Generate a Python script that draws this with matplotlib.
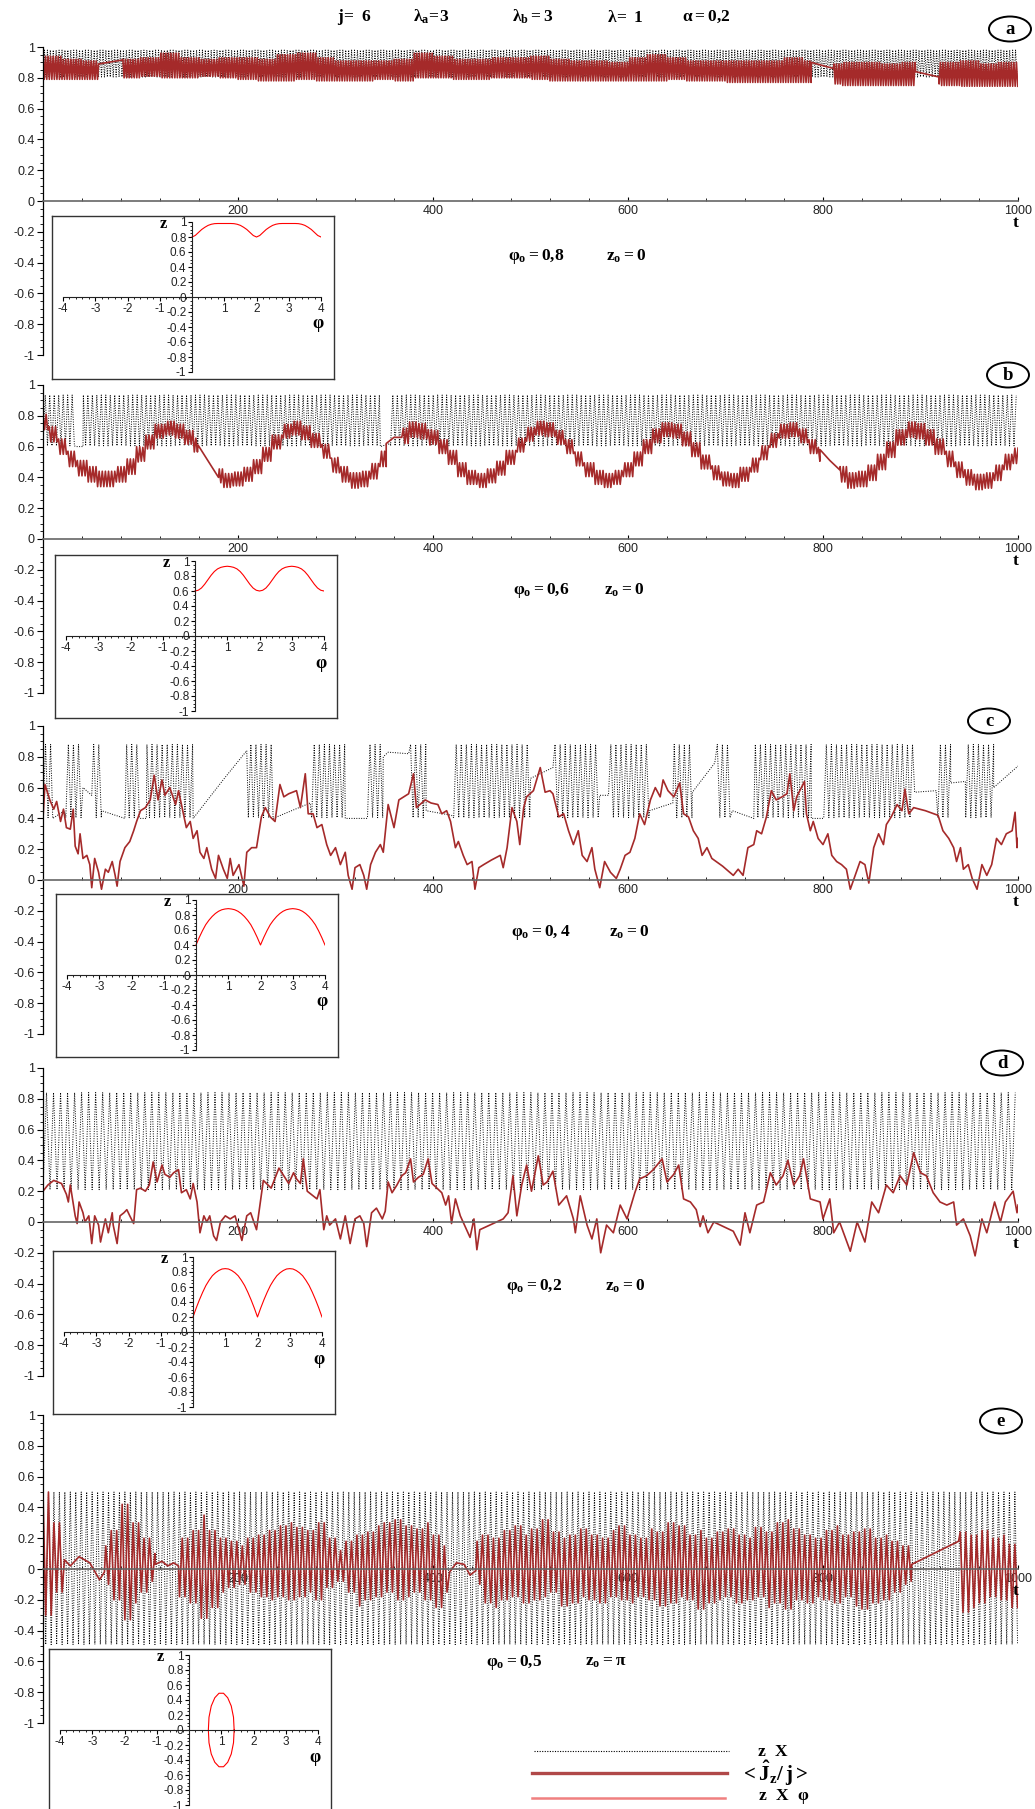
import numpy as np
import matplotlib.pyplot as plt
from matplotlib.patches import Ellipse
from matplotlib.ticker import FixedLocator, MultipleLocator, FuncFormatter

plt.rcParams['font.family'] = 'Liberation Sans'
plt.rcParams['mathtext.fontset'] = 'custom'
plt.rcParams['mathtext.rm'] = 'Liberation Serif:bold'
plt.rcParams['mathtext.it'] = 'Liberation Serif:bold'
plt.rcParams['mathtext.bf'] = 'Liberation Serif:bold'
plt.rcParams['mathtext.default'] = 'rm'

# ---------------- data ----------------
# dotted z(t): envelope (top, bottom), half period in t, slow stretches (t list, value list)
zx_top = {'a': 0.98, 'b': 0.935, 'c': 0.88, 'd': 0.84, 'e': 0.50}
zx_bot = {'a': 0.805, 'b': 0.605, 'c': 0.405, 'd': 0.21, 'e': -0.49}
zx_half = {'a': 1.5, 'b': 2.3, 'c': 2.6, 'd': 3.6, 'e': 2.8}
zx_starts_top = {'a': False, 'b': False, 'c': False, 'd': False, 'e': True}
zx_slow = {
    'a': [],
    'b': [([34, 41], [0.60, 0.60]), ([346, 356], [0.60, 0.62])],
    'c': [([10, 22], [0.40, 0.45]), ([41, 50], [0.60, 0.55]), ([60, 84], [0.45, 0.40]),
          ([100, 106], [0.40, 0.40]), ([154, 186, 209], [0.40, 0.66, 0.84]),
          ([236, 274], [0.40, 0.50]), ([310, 332], [0.40, 0.40]),
          ([349, 354, 375], [0.80, 0.83, 0.82]), ([393, 419], [0.45, 0.42]),
          ([500, 523], [0.66, 0.73]), ([571, 580], [0.55, 0.55]), ([622, 646], [0.45, 0.50]),
          ([666, 689], [0.57, 0.76]), ([707, 729], [0.45, 0.40]), ([788, 800], [0.40, 0.40]),
          ([894, 916], [0.57, 0.58]), ([931, 946], [0.63, 0.64]), ([975, 1000], [0.60, 0.74])],
    'd': [],
    'e': [],
}

# <Jz/j>, panel a: band top / bottom per 20 t, smooth stretches
red_a_hi = [0.94, 0.92, 0.91, 0.91, 0.92, 0.93, 0.96, 0.93, 0.92, 0.93,
            0.93, 0.92, 0.95, 0.96, 0.93, 0.91, 0.91, 0.91, 0.92, 0.96,
            0.94, 0.92, 0.92, 0.93, 0.93, 0.94, 0.92, 0.91, 0.91, 0.90,
            0.93, 0.95, 0.93, 0.91, 0.91, 0.91, 0.91, 0.91, 0.93, 0.91,
            0.89, 0.90, 0.90, 0.89, 0.90, 0.89, 0.90, 0.91, 0.89, 0.90]
red_a_lo = [0.79, 0.79, 0.79, 0.80, 0.80, 0.81, 0.80, 0.80, 0.81, 0.80,
            0.79, 0.78, 0.78, 0.79, 0.78, 0.78, 0.78, 0.79, 0.78, 0.80,
            0.80, 0.79, 0.79, 0.80, 0.80, 0.79, 0.78, 0.78, 0.78, 0.78,
            0.78, 0.78, 0.79, 0.78, 0.78, 0.77, 0.77, 0.77, 0.77, 0.77,
            0.76, 0.75, 0.75, 0.75, 0.75, 0.76, 0.75, 0.745, 0.745, 0.745]
red_a_smooth = [([57, 81], [0.89, 0.915]), ([788, 811], [0.90, 0.86]), ([895, 919], [0.84, 0.805])]

# panel b: slow centre every 10 t (t = 0..1000), jitter per 100 t, smooth stretches
red_b_mid = [0.76, 0.68, 0.60, 0.52, 0.46, 0.42, 0.39, 0.39, 0.42, 0.47,
             0.55, 0.63, 0.70, 0.72, 0.70, 0.66, 0.61, 0.50, 0.41, 0.38,
             0.39, 0.42, 0.47, 0.55, 0.63, 0.70, 0.72, 0.69, 0.64, 0.57,
             0.48, 0.42, 0.38, 0.39, 0.44, 0.52, 0.62, 0.67, 0.71, 0.70,
             0.66, 0.60, 0.53, 0.45, 0.40, 0.38, 0.41, 0.46, 0.53, 0.61,
             0.68, 0.72, 0.71, 0.66, 0.60, 0.52, 0.45, 0.40, 0.38, 0.40,
             0.45, 0.52, 0.60, 0.67, 0.71, 0.70, 0.65, 0.58, 0.50, 0.43,
             0.39, 0.38, 0.42, 0.48, 0.56, 0.64, 0.70, 0.71, 0.67, 0.60,
             0.55, 0.48, 0.42, 0.38, 0.39, 0.43, 0.50, 0.58, 0.66, 0.71,
             0.70, 0.66, 0.60, 0.52, 0.45, 0.40, 0.37, 0.38, 0.43, 0.50, 0.54]
red_b_jit = [0.05, 0.045, 0.045, 0.05, 0.045, 0.045, 0.045, 0.045, 0.05, 0.05]
red_b_smooth = [([159, 170, 180], [0.61, 0.50, 0.40]), ([352, 360, 368], [0.62, 0.66, 0.66]),
                ([797, 807, 817], [0.58, 0.51, 0.45])]

# panel c: traced points
red_c_t = [0, 2, 7, 11, 14, 18, 21, 24, 28, 31, 33, 36, 38, 41, 45, 48, 50, 53, 57, 60,
           64, 67, 71, 74, 76, 79, 84, 89, 93, 96, 100, 105, 110, 114, 118, 122, 125, 130, 136, 139,
           144, 147, 151, 154, 158, 161, 165, 168, 173, 177, 180, 185, 189, 192, 195, 201, 206, 209, 214, 219,
           224, 228, 233, 238, 243, 247, 252, 260, 264, 269, 272, 277, 281, 286, 291, 295, 300, 305, 310, 313,
           317, 320, 325, 329, 332, 336, 341, 346, 349, 354, 360, 365, 370, 375, 380, 383, 392, 398, 405, 409,
           414, 418, 423, 426, 431, 435, 440, 443, 447, 452, 460, 469, 472, 476, 481, 486, 489, 493, 496, 503,
           510, 515, 520, 523, 529, 534, 539, 544, 549, 553, 558, 563, 566, 571, 576, 582, 588, 592, 597, 602,
           607, 612, 617, 623, 628, 633, 636, 641, 647, 653, 657, 662, 667, 672, 676, 681, 686, 697, 708, 713,
           718, 723, 729, 732, 737, 742, 747, 752, 758, 763, 766, 770, 773, 781, 783, 787, 790, 795, 800, 805,
           809, 814, 819, 824, 828, 833, 838, 843, 847, 852, 857, 862, 865, 870, 876, 881, 884, 888, 893, 905,
           918, 923, 929, 934, 937, 941, 944, 949, 953, 958, 963, 968, 973, 978, 983, 988, 994, 997, 999, 1000]
red_c_v = [0.40, 0.62, 0.52, 0.46, 0.51, 0.38, 0.46, 0.34, 0.33, 0.46, 0.22, 0.17, 0.30, 0.14, 0.16, 0.10, -0.05, 0.14, 0.05, -0.06,
           0.07, 0.05, 0.12, 0.03, -0.04, 0.12, 0.21, 0.25, 0.32, 0.38, 0.45, 0.47, 0.52, 0.68, 0.52, 0.65, 0.55, 0.60, 0.49, 0.58,
           0.43, 0.34, 0.38, 0.27, 0.32, 0.18, 0.14, 0.21, 0.07, 0.01, 0.16, 0.07, 0.01, 0.14, 0.03, 0.10, -0.04, 0.18, 0.21, 0.21,
           0.41, 0.47, 0.41, 0.38, 0.62, 0.54, 0.56, 0.58, 0.47, 0.69, 0.43, 0.43, 0.34, 0.36, 0.23, 0.16, 0.21, 0.10, 0.18, 0.03,
           -0.06, 0.08, 0.10, 0.03, -0.06, 0.10, 0.18, 0.23, 0.18, 0.49, 0.34, 0.52, 0.54, 0.56, 0.69, 0.47, 0.52, 0.50, 0.49, 0.43,
           0.45, 0.38, 0.21, 0.25, 0.16, 0.10, 0.12, -0.06, 0.08, 0.10, 0.13, 0.16, 0.08, 0.21, 0.47, 0.38, 0.23, 0.47, 0.54, 0.58,
           0.73, 0.57, 0.58, 0.56, 0.41, 0.43, 0.32, 0.23, 0.32, 0.16, 0.12, 0.21, 0.07, -0.05, 0.12, 0.05, 0.01, 0.07, 0.16, 0.18,
           0.27, 0.43, 0.36, 0.52, 0.60, 0.54, 0.65, 0.58, 0.54, 0.63, 0.43, 0.41, 0.32, 0.27, 0.16, 0.21, 0.14, 0.09, 0.03, 0.07,
           0.03, 0.21, 0.23, 0.32, 0.30, 0.41, 0.58, 0.52, 0.54, 0.56, 0.69, 0.45, 0.54, 0.64, 0.43, 0.32, 0.38, 0.27, 0.23, 0.30,
           0.16, 0.12, 0.10, 0.07, -0.06, 0.03, 0.12, 0.10, -0.02, 0.21, 0.30, 0.23, 0.36, 0.41, 0.49, 0.45, 0.59, 0.43, 0.47, 0.45,
           0.42, 0.32, 0.27, 0.21, 0.12, 0.21, 0.07, 0.10, 0.01, -0.06, 0.10, 0.03, 0.10, 0.27, 0.23, 0.30, 0.32, 0.44, 0.21, 0.27]

# panel d: traced points
red_d_t = [0, 5, 11, 19, 24, 26, 28, 33, 35, 37, 41, 43, 47, 50, 53, 57, 59, 64, 67, 71,
           72, 76, 79, 83, 86, 89, 93, 96, 100, 105, 109, 113, 117, 122, 125, 130, 134, 139, 142, 147,
           151, 154, 158, 161, 165, 168, 171, 175, 178, 182, 187, 192, 197, 201, 204, 209, 213, 219, 226, 234,
           242, 247, 252, 257, 260, 264, 267, 271, 281, 284, 288, 291, 294, 300, 305, 310, 315, 320, 325, 329,
           332, 337, 342, 348, 351, 354, 358, 363, 368, 372, 377, 380, 385, 390, 395, 399, 404, 409, 413, 416,
           419, 423, 428, 433, 438, 442, 445, 448, 472, 477, 482, 486, 491, 496, 501, 508, 513, 517, 523, 529,
           537, 544, 546, 551, 558, 563, 568, 572, 578, 585, 592, 599, 607, 612, 619, 626, 635, 640, 647, 652,
           657, 664, 670, 674, 677, 682, 688, 708, 715, 720, 725, 732, 739, 746, 752, 759, 764, 770, 776, 780,
           787, 797, 800, 807, 811, 817, 828, 835, 843, 850, 857, 865, 872, 879, 886, 893, 900, 906, 913, 920,
           927, 934, 937, 944, 951, 956, 963, 968, 976, 982, 987, 995, 999, 1000]
red_d_v = [0.20, 0.24, 0.27, 0.25, 0.18, 0.13, 0.24, 0.04, -0.01, 0.13, 0.06, 0.00, 0.04, -0.14, 0.04, -0.02, -0.13, 0.02, -0.07, 0.06,
           -0.02, -0.14, 0.04, 0.06, 0.08, 0.04, -0.01, 0.21, 0.22, 0.20, 0.24, 0.39, 0.26, 0.37, 0.31, 0.29, 0.32, 0.34, 0.19, 0.21,
           0.15, 0.25, 0.13, -0.07, 0.04, 0.00, 0.04, -0.09, -0.12, 0.00, 0.04, 0.02, 0.04, -0.05, -0.12, 0.04, 0.06, -0.05, 0.27, 0.22,
           0.35, 0.30, 0.25, 0.32, 0.28, 0.25, 0.41, 0.20, 0.15, 0.21, -0.05, 0.04, -0.02, 0.02, -0.11, 0.04, -0.14, 0.02, 0.04, -0.01,
           -0.16, 0.06, 0.09, 0.02, 0.07, 0.26, 0.19, 0.24, 0.30, 0.32, 0.41, 0.26, 0.29, 0.31, 0.41, 0.25, 0.22, 0.19, 0.11, 0.17,
           -0.01, 0.15, 0.04, -0.03, -0.10, 0.02, -0.18, -0.05, 0.02, 0.06, 0.30, 0.04, 0.24, 0.37, 0.20, 0.43, 0.24, 0.26, 0.33, 0.11,
           0.17, 0.02, -0.07, 0.17, -0.02, -0.11, 0.02, -0.20, -0.02, -0.07, 0.11, 0.02, 0.19, 0.28, 0.30, 0.34, 0.41, 0.26, 0.31, 0.37,
           0.15, 0.13, 0.08, -0.03, 0.04, -0.07, 0.00, -0.06, -0.15, 0.06, -0.07, 0.11, 0.13, 0.32, 0.24, 0.30, 0.40, 0.24, 0.30, 0.41,
           0.15, 0.13, 0.02, 0.15, -0.07, 0.00, -0.19, 0.00, -0.13, 0.13, 0.06, 0.24, 0.19, 0.30, 0.24, 0.45, 0.32, 0.30, 0.19, 0.13,
           0.11, 0.13, -0.02, 0.02, -0.09, -0.22, 0.02, -0.07, 0.13, 0.00, 0.13, 0.20, 0.06, 0.11]

# panel e: band top / bottom per 10 t, smooth stretches
red_e_hi = [0.50, 0.30, 0.10, 0.08, 0.08, 0.08, 0.15, 0.25, 0.42, 0.30,
            0.20, 0.10, 0.05, 0.05, 0.20, 0.25, 0.35, 0.25, 0.20, 0.18,
            0.15, 0.20, 0.22, 0.25, 0.28, 0.30, 0.27, 0.25, 0.30, 0.20,
            0.12, 0.18, 0.22, 0.24, 0.28, 0.30, 0.32, 0.28, 0.26, 0.30,
            0.22, 0.15, 0.05, 0.05, 0.18, 0.22, 0.20, 0.25, 0.28, 0.22,
            0.26, 0.32, 0.24, 0.20, 0.22, 0.26, 0.22, 0.20, 0.25, 0.28,
            0.22, 0.20, 0.26, 0.24, 0.30, 0.28, 0.22, 0.25, 0.20, 0.24,
            0.26, 0.22, 0.20, 0.27, 0.24, 0.30, 0.32, 0.26, 0.22, 0.20,
            0.25, 0.28, 0.22, 0.24, 0.26, 0.20, 0.22, 0.18, 0.15, 0.10,
            0.10, 0.12, 0.15, 0.18, 0.24, 0.22, 0.25, 0.20, 0.22, 0.16]
red_e_lo = [-0.30, -0.15, 0.00, 0.00, 0.00, 0.00, -0.10, -0.20, -0.33, -0.22,
            -0.15, -0.08, 0.00, 0.00, -0.18, -0.22, -0.32, -0.25, -0.15, -0.12,
            -0.10, -0.15, -0.18, -0.20, -0.18, -0.20, -0.18, -0.15, -0.20, -0.12,
            -0.08, -0.15, -0.24, -0.20, -0.18, -0.15, -0.20, -0.18, -0.15, -0.20,
            -0.25, -0.15, 0.00, 0.00, -0.10, -0.22, -0.25, -0.20, -0.18, -0.22,
            -0.20, -0.18, -0.15, -0.24, -0.22, -0.18, -0.20, -0.22, -0.18, -0.20,
            -0.22, -0.18, -0.20, -0.24, -0.22, -0.18, -0.20, -0.26, -0.22, -0.20,
            -0.18, -0.22, -0.20, -0.18, -0.25, -0.22, -0.26, -0.20, -0.22, -0.18,
            -0.20, -0.22, -0.18, -0.24, -0.26, -0.22, -0.20, -0.15, -0.10, -0.08,
            -0.05, -0.05, -0.10, -0.15, -0.28, -0.25, -0.22, -0.18, -0.20, -0.25]
red_e_smooth = [([22, 28, 37, 48, 58, 63], [0.06, 0.02, 0.08, 0.04, -0.07, -0.02]),
                ([115, 122, 128, 134, 139], [0.03, 0.05, 0.02, 0.04, 0.02]),
                ([417, 424, 432, 438, 444], [-0.02, 0.04, 0.03, -0.04, -0.01]),
                ([891, 939], [0.03, 0.18])]

# insets z(phi) for phi in 0..2 (repeats over 2..4)
phi_half = [0.0, 0.1, 0.2, 0.3, 0.4, 0.5, 0.6, 0.7, 0.8, 0.9, 1.0,
            1.1, 1.2, 1.3, 1.4, 1.5, 1.6, 1.7, 1.8, 1.9, 2.0]
zphi_half = {
    'a': [0.80, 0.82, 0.86, 0.90, 0.93, 0.955, 0.97, 0.978, 0.98, 0.98, 0.98,
          0.98, 0.98, 0.978, 0.97, 0.955, 0.93, 0.90, 0.86, 0.82, 0.80],
    'b': [0.60, 0.61, 0.64, 0.69, 0.75, 0.81, 0.86, 0.895, 0.915, 0.925, 0.93,
          0.925, 0.915, 0.895, 0.86, 0.81, 0.75, 0.69, 0.64, 0.61, 0.60],
    'c': [0.40, 0.50, 0.59, 0.67, 0.73, 0.78, 0.82, 0.85, 0.87, 0.88, 0.885,
          0.88, 0.87, 0.85, 0.82, 0.78, 0.73, 0.67, 0.59, 0.50, 0.40],
    'd': [0.20, 0.32, 0.43, 0.53, 0.62, 0.69, 0.75, 0.79, 0.82, 0.84, 0.845,
          0.84, 0.82, 0.79, 0.75, 0.69, 0.62, 0.53, 0.43, 0.32, 0.20],
}
# panel e inset: closed orbit
orbit_phi = [1.40, 1.38, 1.31, 1.20, 1.07, 0.93, 0.80, 0.69, 0.62, 0.60,
             0.62, 0.69, 0.80, 0.93, 1.07, 1.20, 1.31, 1.38, 1.40]
orbit_z = [0.00, 0.17, 0.32, 0.43, 0.49, 0.49, 0.43, 0.32, 0.17, 0.00,
           -0.17, -0.32, -0.43, -0.49, -0.49, -0.43, -0.32, -0.17, 0.00]

header = [(r'$j\!=\ 6$', 337), (r'$λ_{a}\!=\!3$', 413), (r'$λ_b = 3$', 512),
          (r'$λ\!=\ 1$', 607), (r'$α = 0{,}2$', 682)]
init_phi = {'a': r'$φ_o = 0{,}8$', 'b': r'$φ_o = 0{,}6$', 'c': r'$φ_o = 0, 4$',
            'd': r'$φ_o = 0{,}2$', 'e': r'$φ_o = 0{,}5$'}
init_z = {'a': r'$z_o = 0$', 'b': r'$z_o = 0$', 'c': r'$z_o = 0$', 'd': r'$z_o = 0$', 'e': r'$z_o = π$'}

# ---------------- layout (pixels) ----------------
W, H = 1035, 1809
panel_top = {'a': 47, 'b': 385, 'c': 726, 'd': 1068, 'e': 1415}
inset_box = {'a': (52, 216), 'b': (55, 555), 'c': (56, 894), 'd': (53, 1251), 'e': (49, 1649)}
letter_xy = {'a': (1010, 29), 'b': (1008, 375), 'c': (989, 721), 'd': (1002, 1063), 'e': (1001, 1421)}
label_xy = {'a': (508, 606, 256), 'b': (513, 604, 590), 'c': (511, 609, 932),
            'd': (506, 605, 1286), 'e': (486, 585, 1662)}

RED = '#a52a2a'
SERIF = 'Liberation Serif'


def rect(px, py, pw, ph):
    return [px / W, 1 - (py + ph) / H, pw / W, ph / H]


def zigzag(step, hi, lo, block, smooth, first_hi):
    ts, vs = [], []
    k = 0
    for t in np.arange(0.0, 1000.0 + 1e-6, step):
        if any(s[0][0] < t <= s[0][-1] for s in smooth):
            continue
        i = min(int(t // block), len(hi) - 1)
        up = (k % 2 == 0) == first_hi
        ts.append(t)
        vs.append(hi[i] if up else lo[i])
        k += 1
    for st, sv in smooth:
        ts += list(st)
        vs += list(sv)
    order = np.argsort(ts, kind='stable')
    return np.array(ts)[order], np.array(vs)[order]


def jitter_band(step, mid, jit, smooth):
    ts, vs = [], []
    k = 0
    for t in np.arange(0.0, 1000.0 + 1e-6, step):
        if any(s[0][0] < t <= s[0][-1] for s in smooth):
            continue
        i = int(round(t / 10))
        j = jit[min(int(t // 100), len(jit) - 1)]
        ts.append(t)
        vs.append(mid[i] + (j if k % 2 == 0 else -j))
        k += 1
    for st, sv in smooth:
        ts += list(st)
        vs += list(sv)
    order = np.argsort(ts, kind='stable')
    return np.array(ts)[order], np.array(vs)[order]


red_series = {
    'a': zigzag(1.3, red_a_hi, red_a_lo, 20, red_a_smooth, True),
    'b': jitter_band(1.6, red_b_mid, red_b_jit, red_b_smooth),
    'c': (np.array(red_c_t), np.array(red_c_v)),
    'd': (np.array(red_d_t), np.array(red_d_v)),
    'e': zigzag(2.8, red_e_hi, red_e_lo, 10, red_e_smooth, True),
}

fig = plt.figure(figsize=(W / 100, H / 100), dpi=100)
fig.patch.set_facecolor('white')

fmt = FuncFormatter(lambda v, p: '%g' % v)

for key in 'abcde':
    top = panel_top[key]
    ax = fig.add_axes(rect(43, top, 975, 308))
    ax.patch.set_alpha(0)
    ax.set_xlim(0, 1000)
    ax.set_ylim(-1, 1)
    ax.spines['top'].set_visible(False)
    ax.spines['right'].set_visible(False)
    ax.spines['bottom'].set_position(('data', 0))
    ax.spines['bottom'].set_color('#666666')
    ax.spines['bottom'].set_linewidth(1.2)
    ax.spines['left'].set_linewidth(0.9)
    ax.xaxis.set_major_locator(FixedLocator([200, 400, 600, 800, 1000]))
    ax.xaxis.set_minor_locator(MultipleLocator(40))
    ax.yaxis.set_major_locator(FixedLocator([-1, -0.8, -0.6, -0.4, -0.2, 0, 0.2, 0.4, 0.6, 0.8, 1]))
    ax.yaxis.set_minor_locator(MultipleLocator(0.05))
    ax.yaxis.set_major_formatter(fmt)
    ax.tick_params(axis='x', which='major', direction='in', length=3, labelsize=9,
                   pad=3, labelcolor='#222222')
    ax.tick_params(axis='x', which='minor', direction='in', length=2)
    ax.tick_params(axis='y', which='major', direction='out', length=4, labelsize=9,
                   pad=2, labelcolor='#222222')
    ax.tick_params(axis='y', which='minor', direction='out', length=2)

    zt, zv = zigzag(zx_half[key], [zx_top[key]], [zx_bot[key]], 1e9, zx_slow[key], zx_starts_top[key])
    ax.plot(zt, zv, color='black', lw=0.7, linestyle=(0, (1, 1.5)))
    rt, rv = red_series[key]
    ax.plot(rt, rv, color=RED, lw=1.2)

# insets
for key in 'abcde':
    bx, by = inset_box[key]
    frame = fig.add_axes(rect(bx, by, 282, 163))
    frame.set_xticks([])
    frame.set_yticks([])
    frame.set_facecolor('white')
    for s in frame.spines.values():
        s.set_color('#333333')
        s.set_linewidth(1.0)
    ia = fig.add_axes(rect(bx + 11, by + 6, 258, 150))
    ia.patch.set_alpha(0)
    ia.set_xlim(-4, 4)
    ia.set_ylim(-1, 1)
    ia.spines['top'].set_visible(False)
    ia.spines['right'].set_visible(False)
    ia.spines['left'].set_position(('data', 0))
    ia.spines['bottom'].set_position(('data', 0))
    for s in ('left', 'bottom'):
        ia.spines[s].set_linewidth(0.8)
        ia.spines[s].set_color('#222222')
    ia.xaxis.set_major_locator(FixedLocator([-4, -3, -2, -1, 1, 2, 3, 4]))
    ia.xaxis.set_minor_locator(MultipleLocator(0.2))
    ia.yaxis.set_major_locator(FixedLocator([-1, -0.8, -0.6, -0.4, -0.2, 0, 0.2, 0.4, 0.6, 0.8, 1]))
    ia.yaxis.set_minor_locator(MultipleLocator(0.05))
    ia.yaxis.set_major_formatter(fmt)
    ia.xaxis.set_major_formatter(fmt)
    ia.tick_params(which='major', direction='out', length=3, labelsize=8.5, pad=1,
                   labelcolor='#222222')
    ia.tick_params(which='minor', direction='out', length=1.5)
    if key == 'e':
        ia.plot(orbit_phi, orbit_z, color='red', lw=0.8)
    else:
        ph = np.concatenate([phi_half, np.array(phi_half[1:]) + 2])
        zz = np.concatenate([zphi_half[key], zphi_half[key][1:]])
        ia.plot(ph, zz, color='red', lw=0.8)
    ia.text(-0.9, 0.97, 'z', family=SERIF, weight='bold', fontsize=12, ha='center', va='center')
    ia.text(3.9, -0.36, 'φ', family=SERIF, weight='bold', fontsize=13, ha='center', va='center')

# overlay for free text
ov = fig.add_axes([0, 0, 1, 1])
ov.set_xlim(0, W)
ov.set_ylim(H, 0)
ov.axis('off')
ov.patch.set_alpha(0)

for txt, x in header:
    ov.text(x, 17, txt, fontsize=12.5, ha='left', va='center')

for key in 'abcde':
    cx, cy = letter_xy[key]
    ov.add_patch(Ellipse((cx, cy), 42, 25, fill=False, edgecolor='black', lw=1.4))
    ov.text(cx, cy + 1, key, family=SERIF, weight='bold', fontsize=13.5, ha='center', va='center')
    ov.text(1016, panel_top[key] + 154 + 22, 't', family=SERIF, weight='bold', fontsize=12.5,
            ha='center', va='center')
    x1, x2, y = label_xy[key]
    ov.text(x1, y, init_phi[key], fontsize=12.5, ha='left', va='center')
    ov.text(x2, y, init_z[key], fontsize=12.5, ha='left', va='center')

# legend
ov.plot([534, 729], [1751, 1751], color='black', lw=0.8, linestyle=(0, (1, 1.3)))
ov.plot([532, 727], [1773, 1773], color='#b04848', lw=2.4)
ov.plot([532, 725], [1798, 1798], color='#f08080', lw=1.8)
ov.text(757, 1751, r'$z\ \ X$', fontsize=12.5, ha='left', va='center')
ov.text(740, 1773, r'$<\hat{J}_{z}/\,j>$', fontsize=15, ha='left', va='center')
ov.text(758, 1797, r'$z\ \ X\ \ φ$', fontsize=12.5, ha='left', va='center')

fig.savefig('out.png', dpi=100, facecolor='white')
